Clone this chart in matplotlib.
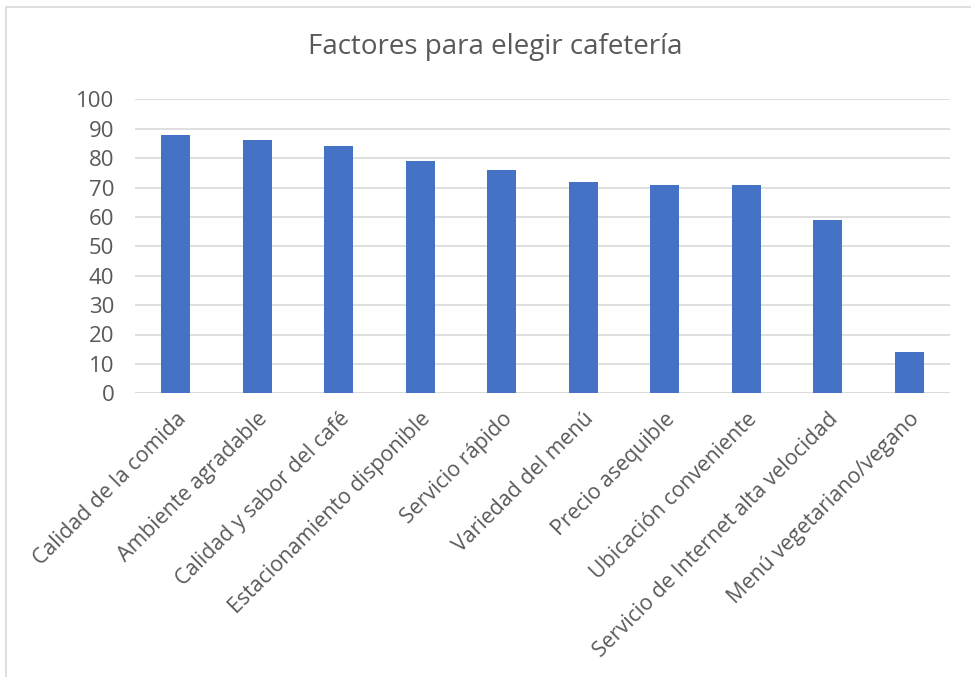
import numpy as np
import matplotlib.pyplot as plt
from matplotlib.patches import Rectangle

# datos
factores = ['Calidad de la comida', 'Ambiente agradable', 'Calidad y sabor del café',
            'Estacionamiento disponible', 'Servicio rápido', 'Variedad del menú',
            'Precio asequible', 'Ubicación conveniente',
            'Servicio de Internet alta velocidad', 'Menú vegetariano/vegano']
valores = [88, 86, 84, 79, 76, 72, 71, 71, 59, 14]

plt.rcParams['font.family'] = ['Open Sans', 'DejaVu Sans']
gris = '#595959'

fig = plt.figure(figsize=(9.71, 6.77), dpi=100)
W, H = 971, 677
ax = fig.add_axes([135 / W, 1 - 393.3 / H, (950 - 135) / W, (393.3 - 99.3) / H])

x = np.arange(len(factores))
ax.bar(x, valores, width=0.356, color='#4472C4', zorder=3)

ax.set_xlim(-0.5, len(factores) - 0.5)
ax.set_ylim(0, 100)
ax.set_yticks(range(0, 101, 10))
ax.yaxis.grid(True, color='#d9d9d9', lw=1.2, zorder=0)
for s in ax.spines.values():
    s.set_visible(False)
ax.tick_params(axis='both', length=0, colors=gris)
ax.tick_params(axis='y', pad=15, labelsize=16)
ax.set_xticks(x)
ax.set_xticklabels(factores, rotation=45, ha='right', rotation_mode='anchor')
ax.tick_params(axis='x', pad=11, labelsize=15.4)
ax.axhline(0, color='#d9d9d9', lw=1.2, zorder=2)

fig.text(495 / W, 1 - 47 / H, 'Factores para elegir cafetería', ha='center', va='center',
         fontsize=20, color=gris)

# borde del gráfico
fig.patches.append(Rectangle((5.5 / W, -0.1), 1.2, 1 - 6.5 / H + 0.1,
                             transform=fig.transFigure, fill=False,
                             edgecolor='#d9d9d9', lw=1.2))

fig.savefig('out.png', dpi=100)
